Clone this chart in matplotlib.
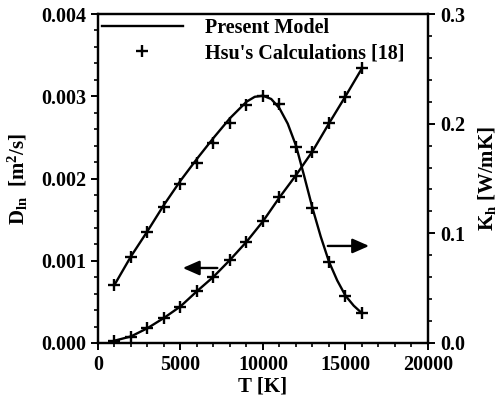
import matplotlib.pyplot as plt
import numpy as np
from matplotlib.ticker import MultipleLocator, FormatStrFormatter

plt.rcParams['font.family'] = ['Liberation Serif', 'DejaVu Serif']
plt.rcParams['font.weight'] = 'bold'
plt.rcParams['axes.labelweight'] = 'bold'
plt.rcParams['mathtext.fontset'] = 'custom'
plt.rcParams['mathtext.rm'] = 'Liberation Serif:bold'
plt.rcParams['mathtext.it'] = 'Liberation Serif:bold'
plt.rcParams['mathtext.bf'] = 'Liberation Serif:bold'

# Hsu's calculations [18]
t_hsu = [1000, 2000, 3000, 4000, 5000, 6000, 7000, 8000,
         9000, 10000, 11000, 12000, 13000, 14000, 15000, 16000]
d_hsu = [0.000028, 0.000077, 0.000178, 0.00030, 0.000434, 0.000632, 0.00080, 0.00101,
         0.001224, 0.001483, 0.00178, 0.00203, 0.002326, 0.00267, 0.002995, 0.00334]
k_hsu = [0.0529, 0.0781, 0.101, 0.1237, 0.1447, 0.1638, 0.182, 0.2009,
         0.217, 0.2252, 0.218, 0.179, 0.1228, 0.0741, 0.0431, 0.0271]

# present model
t_model_d = t_hsu
d_model = [0.000028, 0.000080, 0.000180, 0.000305, 0.000445, 0.000630, 0.000805, 0.00101,
           0.001230, 0.001480, 0.00177, 0.00204, 0.002330, 0.00267, 0.003000, 0.00334]
t_model_k = [1000, 2000, 3000, 4000, 5000, 6000, 7000, 8000, 9000, 9500, 10000,
             10500, 11000, 11500, 12000, 12500, 13000, 13500, 14000, 14500,
             15000, 15500, 16000]
k_model = [0.053, 0.079, 0.102, 0.126, 0.148, 0.168, 0.187, 0.205, 0.220, 0.2245, 0.2255,
           0.2225, 0.214, 0.200, 0.180, 0.152, 0.123, 0.097, 0.0741, 0.057,
           0.0431, 0.034, 0.0271]

fig = plt.figure(figsize=(5.04, 4.05), dpi=100)
ax = fig.add_axes([0.1944, 0.1531, 0.6548, 0.8123])
ax2 = ax.twinx()

ax.plot(t_model_d, d_model, color='k', lw=1.7)
ax.plot(t_hsu, d_hsu, ls='none', marker='+', ms=9, mew=1.7, color='k')
l1, = ax2.plot(t_model_k, k_model, color='k', lw=1.7, label='Present Model')
l2, = ax2.plot(t_hsu, k_hsu, ls='none', marker='+', ms=9, mew=1.7, color='k',
               label="Hsu's Calculations [18]")

ax.set_xlim(0, 20000)
ax.set_ylim(0, 0.004)
ax2.set_ylim(0, 0.3)

ax.xaxis.set_major_locator(MultipleLocator(5000))
ax.xaxis.set_minor_locator(MultipleLocator(1000))
ax.yaxis.set_major_locator(MultipleLocator(0.001))
ax.yaxis.set_minor_locator(MultipleLocator(0.0002))
ax.yaxis.set_major_formatter(FormatStrFormatter('%.3f'))
ax2.yaxis.set_major_locator(MultipleLocator(0.1))
ax2.yaxis.set_minor_locator(MultipleLocator(0.02))
ax2.yaxis.set_major_formatter(FormatStrFormatter('%.1f'))

for a in (ax, ax2):
    a.tick_params(which='major', direction='out', length=5, width=1.4, labelsize=14.5)
    a.tick_params(which='minor', direction='out', length=3, width=1.2)
    for s in a.spines.values():
        s.set_linewidth(1.6)
ax.tick_params(top=False, right=False)
ax2.tick_params(left=False)

ax.set_xlabel('T [K]', fontsize=15, labelpad=1)
ax.set_ylabel(r'$\mathbf{D_{ln}}$  [m$\mathbf{^2}$/s]', fontsize=15, labelpad=8)
ax2.set_ylabel(r'$\mathbf{K_h}$ [W/mK]', fontsize=15, labelpad=8)

# arrows pointing each curve to its axis
ax.annotate('', xy=(4970, 0.000912), xytext=(7400, 0.000912),
            arrowprops=dict(arrowstyle='-|>,head_length=0.5,head_width=0.22',
                            color='k', lw=1.7, mutation_scale=20))
ax2.annotate('', xy=(16600, 0.0885), xytext=(13760, 0.0885),
             arrowprops=dict(arrowstyle='-|>,head_length=0.5,head_width=0.22',
                             color='k', lw=1.7, mutation_scale=20))

ax2.legend(handles=[l1, l2], loc='upper left', frameon=False, fontsize=14.5,
           handlelength=4.0, handletextpad=1.1, labelspacing=0.25,
           borderaxespad=0.0, borderpad=0.2)

fig.savefig('out.png', dpi=100)
